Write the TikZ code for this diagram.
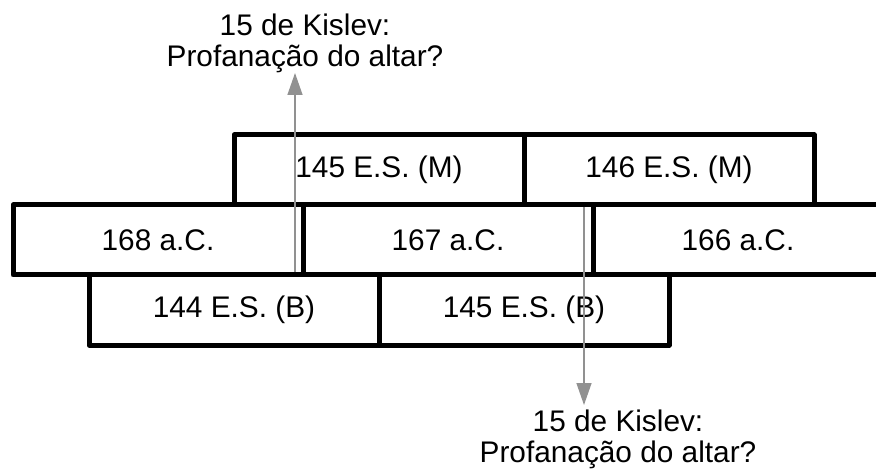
\documentclass[tikz,border=0pt]{standalone}
\usepackage{fontspec}
\setmainfont{Liberation Sans}
\usepackage{xcolor}
\definecolor{markgray}{RGB}{145,145,145}
\usetikzlibrary{arrows.meta, positioning}

\begin{document}
\begin{tikzpicture}[
  x=1pt, y=-1pt,
  yearbox/.style={draw, line width=5pt, line join=round, outer sep=0pt, inner sep=0pt,
    minimum width=290pt, minimum height=70pt, font=\fontsize{29.8}{31}\selectfont},
  marker/.style={draw=markgray, line width=1.4pt, -{Triangle[length=22pt, width=15pt, fill=markgray]}},
  note/.style={align=center, inner sep=0pt, font=\fontsize{29.8}{31}\selectfont}
]
\useasboundingbox (0,0) rectangle (876,473);
\clip (0,0) rectangle (876,473);
% top row: M
\node[yearbox] (m145) at (379,170) {145 E.S. (M)};
\node[yearbox, right=0pt of m145] (m146) {146 E.S. (M)};
% middle row: a.C.
\node[yearbox] (y168) at (158,240) {168 a.C.};
\node[yearbox, right=0pt of y168] (y167) {167 a.C.};
\node[yearbox, right=0pt of y167] (y166) {166 a.C.};
% bottom row: B
\node[yearbox] (b144) at (234,310) {144 E.S. (B)};
\node[yearbox, right=0pt of b144] (b145) {145 E.S. (B)};
% labels
\node[note, anchor=south] (kislevA) at (305,73) {15 de Kislev:\\Profanação do altar?};
\node[note, anchor=north] (kislevB) at (618,410) {15 de Kislev:\\Profanação do altar?};
\coordinate (kA) at (295,272);
\coordinate (kB) at (584,207);
\draw[marker] (kA) -- (kA |- kislevA.south);
\draw[marker, shorten >=5pt] (kB) -- (kB |- kislevB.north);
\end{tikzpicture}
\end{document}
